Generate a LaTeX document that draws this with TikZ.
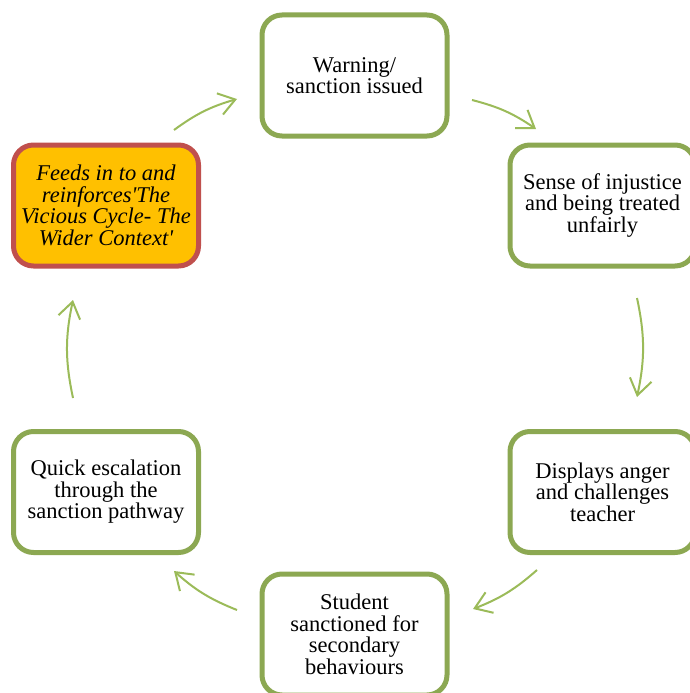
\documentclass[tikz,border=0pt]{standalone}
\usepackage{fontspec}
\setmainfont{Liberation Serif}
\usetikzlibrary{arrows.meta}
\definecolor{boxgreen}{RGB}{140,168,82}
\definecolor{arrowgreen}{RGB}{155,187,89}
\definecolor{boxred}{RGB}{192,80,77}
\definecolor{boxorange}{RGB}{255,192,0}
\begin{document}
\begin{tikzpicture}[x=1pt,y=1pt,
  stagebox/.style={draw=boxgreen, fill=white, line width=5pt, rounded corners=20pt,
    minimum width=185pt, minimum height=121pt, align=center, inner sep=0pt,
    font=\fontsize{22.5}{21.5}\selectfont},
  feedbox/.style={stagebox, draw=boxred, fill=boxorange, font=\fontsize{22.5}{21.5}\selectfont\itshape},
  cyclearrow/.style={draw=arrowgreen, line width=2pt,
    -{Straight Barb[length=16pt,width=22pt]}}
]
\useasboundingbox (0,0) rectangle (690,-693);

% stages of the cycle
\node[stagebox] (warn) at (354.5,-75.5) {Warning/\\sanction issued};
\node[stagebox] (injust) at (602.5,-205.5) {Sense of injustice\\and being treated\\unfairly};
\node[stagebox] (anger) at (602.5,-492) {Displays anger\\and challenges\\teacher};
\node[stagebox] (secondary) at (354.5,-634.5) {Student\\sanctioned for\\secondary\\behaviours};
\node[stagebox] (escal) at (106,-492) {Quick escalation\\through the\\sanction pathway};
\node[feedbox] (feeds) at (106,-205.5) {Feeds in to and\\reinforces\textquotesingle The\\Vicious Cycle- The\\Wider Context\textquotesingle};

% arrow end points between the stages
\coordinate (a1s) at (174,-130); \coordinate (a1e) at (237,-99);
\coordinate (a2s) at (472,-100); \coordinate (a2e) at (536,-129);
\coordinate (a3s) at (637,-298); \coordinate (a3e) at (637,-397);
\coordinate (a4s) at (537,-570); \coordinate (a4e) at (473,-609);
\coordinate (a5s) at (237,-610); \coordinate (a5e) at (174,-571);
\coordinate (a6s) at (73,-398);  \coordinate (a6e) at (73,-300);

\draw[cyclearrow] (a1s) to[bend left=10] (a1e);
\draw[cyclearrow] (a2s) to[bend left=10] (a2e);
\draw[cyclearrow] (a3s) to[bend left=12] (a3e);
\draw[cyclearrow] (a4s) to[bend left=10] (a4e);
\draw[cyclearrow] (a5s) to[bend left=10] (a5e);
\draw[cyclearrow] (a6s) to[bend left=12] (a6e);
\end{tikzpicture}
\end{document}
